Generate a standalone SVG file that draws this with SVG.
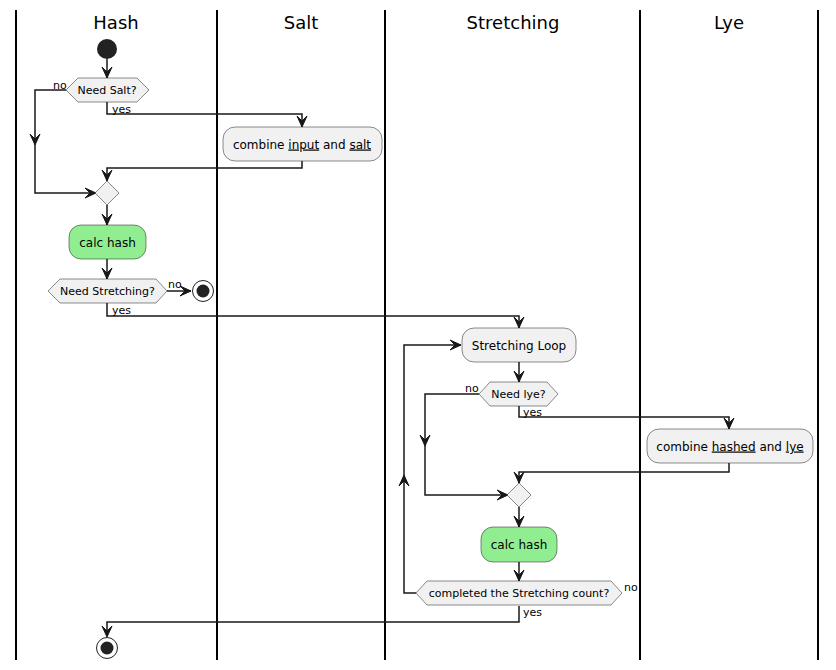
<svg xmlns="http://www.w3.org/2000/svg" width="836" height="670" viewBox="0 0 836 670">
<style>
text{font-family:"DejaVu Sans","Liberation Sans",sans-serif;fill:#000}
.title{font-size:18px;text-anchor:middle}
.act{font-size:12px;text-anchor:middle}
.lbl{font-size:11px}
.dec{font-size:11px;text-anchor:middle}
.lane{stroke:#000;stroke-width:2}
.box{fill:#F1F1F1;stroke:#181818;stroke-width:0.5}
.green{fill:#90EE90;stroke:#181818;stroke-width:0.5}
.edge{fill:none;stroke:#181818;stroke-width:1.5}
.ah{fill:#181818;stroke:#181818;stroke-width:1}
</style>
<defs>
<polygon id="ad" class="ah" points="-5,-11 0,0 5,-11 0,-6"/>
</defs>
<g id="lanes">
<line class="lane" x1="16" y1="10" x2="16" y2="660"/>
<line class="lane" x1="217" y1="10" x2="217" y2="660"/>
<line class="lane" x1="385" y1="10" x2="385" y2="660"/>
<line class="lane" x1="640" y1="10" x2="640" y2="660"/>
<line class="lane" x1="818" y1="10" x2="818" y2="660"/>
<text class="title" x="116" y="29">Hash</text>
<text class="title" x="301" y="29">Salt</text>
<text class="title" x="513" y="29">Stretching</text>
<text class="title" x="729" y="29">Lye</text>
</g>
<g id="connectors">
<path class="edge" d="M107,59 V79"/><use href="#ad" x="107" y="78"/>
<path class="edge" d="M66,90 H35 V193 H96"/>
<use href="#ad" x="35" y="145"/>
<use href="#ad" transform="translate(96,193) rotate(-90)"/>
<text class="lbl" x="53" y="89">no</text>
<path class="edge" d="M107,102 V114 H302 V127"/><use href="#ad" x="302" y="127"/>
<text class="lbl" x="112" y="113">yes</text>
<path class="edge" d="M302,161 V168 H107 V181"/><use href="#ad" x="107" y="181"/>
<path class="edge" d="M107,205 V225"/><use href="#ad" x="107" y="225"/>
<path class="edge" d="M107,259 V279"/><use href="#ad" x="107" y="279"/>
<path class="edge" d="M167,291 H191"/><use href="#ad" transform="translate(191,291) rotate(-90)"/>
<text class="lbl" x="168" y="288">no</text>
<path class="edge" d="M107,303 V316 H519 V328"/><use href="#ad" x="519" y="328"/>
<text class="lbl" x="112" y="314">yes</text>
<path class="edge" d="M519,362 V382"/><use href="#ad" x="519" y="382"/>
<path class="edge" d="M479,394 H425 V495 H508"/>
<use href="#ad" x="425" y="446"/>
<use href="#ad" transform="translate(508,495) rotate(-90)"/>
<text class="lbl" x="465" y="392">no</text>
<path class="edge" d="M519,406 V417 H729 V429"/><use href="#ad" x="729" y="429"/>
<text class="lbl" x="523" y="416">yes</text>
<path class="edge" d="M729,463 V472 H519 V483"/><use href="#ad" x="519" y="483"/>
<path class="edge" d="M519,507 V527"/><use href="#ad" x="519" y="527"/>
<path class="edge" d="M519,562 V581"/><use href="#ad" x="519" y="581"/>
<path class="edge" d="M416,593 H404 V345 H461"/>
<use href="#ad" transform="translate(404,475) rotate(180)"/>
<use href="#ad" transform="translate(461,345) rotate(-90)"/>
<text class="lbl" x="624" y="591">no</text>
<path class="edge" d="M519,606 V622 H107 V636"/><use href="#ad" x="107" y="637"/>
<text class="lbl" x="523" y="616">yes</text>
</g>
<g id="start"><circle cx="107" cy="49" r="10" fill="#222"/></g>
<g id="needSalt">
<polygon class="box" points="66,90 78,78 137,78 149,90 137,102 78,102"/>
<text class="dec" x="107" y="94">Need Salt?</text>
</g>
<g id="combineSalt">
<rect class="box" x="223" y="127" width="159" height="34" rx="12"/>
<text class="act" x="302" y="148.5">combine <tspan text-decoration="underline">input</tspan> and <tspan text-decoration="underline">salt</tspan></text>
</g>
<g id="merge1"><polygon class="box" points="107,181 119,193 107,205 95,193"/></g>
<g id="calcHash1">
<rect class="green" x="69" y="225" width="77" height="34" rx="12"/>
<text class="act" x="107.5" y="246.5">calc hash</text>
</g>
<g id="needStretching">
<polygon class="box" points="48,291 60,279 156,279 167,291 156,303 60,303"/>
<text class="dec" x="107.5" y="295">Need Stretching?</text>
</g>
<g id="stop1">
<circle cx="203" cy="291" r="10.5" fill="none" stroke="#222" stroke-width="1"/>
<circle cx="203" cy="291" r="6.5" fill="#222"/>
</g>
<g id="stretchingLoop">
<rect class="box" x="462" y="328" width="114" height="34" rx="12"/>
<text class="act" x="519" y="349.5">Stretching Loop</text>
</g>
<g id="needLye">
<polygon class="box" points="479,394 490,382 547,382 558,394 547,406 490,406"/>
<text class="dec" x="518.5" y="398">Need lye?</text>
</g>
<g id="combineLye">
<rect class="box" x="647" y="429" width="166" height="34" rx="12"/>
<text class="act" x="730" y="450.5">combine <tspan text-decoration="underline">hashed</tspan> and <tspan text-decoration="underline">lye</tspan></text>
</g>
<g id="merge2"><polygon class="box" points="519,483 531,495 519,507 507,495"/></g>
<g id="calcHash2">
<rect class="green" x="481" y="527" width="76" height="35" rx="12"/>
<text class="act" x="519" y="548.5">calc hash</text>
</g>
<g id="completed">
<polygon class="box" points="416,593 427,581 611,581 622,593 611,605 427,605"/>
<text class="dec" x="519" y="597">completed the Stretching count?</text>
</g>
<g id="stop2">
<circle cx="107" cy="648" r="10.5" fill="none" stroke="#222" stroke-width="1"/>
<circle cx="107" cy="648" r="6.5" fill="#222"/>
</g>
</svg>
